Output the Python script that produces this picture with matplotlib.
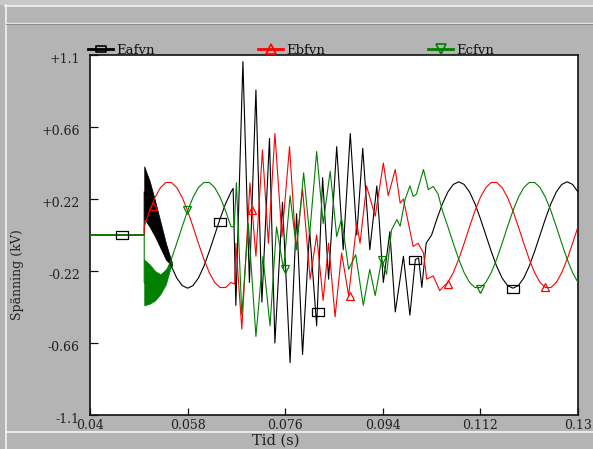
import numpy as np
import matplotlib
matplotlib.use("Agg")
import matplotlib.pyplot as plt
from matplotlib.path import Path
from matplotlib.transforms import offset_copy

# ---------------- data ----------------
series_names = ["Eafvn", "Ebfvn", "Ecfvn"]
series_colors = ["#000000", "#ff0000", "#008000"]

xtick_vals = [0.04, 0.058, 0.076, 0.094, 0.112, 0.13]
xtick_labels = ["0.04", "0.058", "0.076", "0.094", "0.112", "0.13"]
ytick_vals = [1.1, 0.66, 0.22, -0.22, -0.66, -1.1]
ytick_labels = ["+1.1", "+0.66", "+0.22", "-0.22", "-0.66", "-1.1"]

# phase A (Eafvn)
t_a = [0.040, 0.050,
       0.050, 0.051, 0.052, 0.053, 0.054, 0.055, 0.056, 0.057, 0.058, 0.059,
       0.060, 0.061, 0.062, 0.063, 0.064, 0.065, 0.066,
       0.0664, 0.0669, 0.0682, 0.0694, 0.0706, 0.0717, 0.0731, 0.0741, 0.0755,
       0.0769, 0.0781, 0.0792, 0.0805, 0.0818, 0.0829, 0.0840, 0.0855, 0.0867,
       0.0880, 0.0892, 0.0903, 0.0916, 0.0929, 0.0941, 0.0953, 0.0963, 0.0978,
       0.0990, 0.1000, 0.1006, 0.1012, 0.1020,
       0.103, 0.104, 0.105, 0.106, 0.107, 0.108, 0.109, 0.110, 0.111, 0.112,
       0.113, 0.114, 0.115, 0.116, 0.117, 0.118, 0.119, 0.120, 0.121, 0.122,
       0.123, 0.124, 0.125, 0.126, 0.127, 0.128, 0.129, 0.130]
v_a = [0.0, 0.0,
       0.263, 0.191, 0.100, 0.0, -0.100, -0.191, -0.263, -0.309, -0.325, -0.309,
       -0.263, -0.191, -0.100, 0.0, 0.100, 0.191, 0.263,
       0.285, -0.43, 1.06, -0.29, 0.886, -0.41, 0.59, -0.66, 0.20,
       -0.78, 0.13, -0.73, 0.03, -0.555, 0.35, -0.27, 0.54, -0.09,
       0.62, 0.00, 0.53, -0.09, 0.30, -0.29, 0.02, -0.47, -0.13,
       -0.49, -0.15, -0.14, -0.32, -0.05,
       0.0, 0.100, 0.191, 0.263, 0.309, 0.325, 0.309, 0.263, 0.191, 0.100,
       0.0, -0.100, -0.191, -0.263, -0.309, -0.325, -0.309, -0.263, -0.191, -0.100,
       0.0, 0.100, 0.191, 0.263, 0.309, 0.325, 0.309, 0.263]

# phase B (Ebfvn)
t_b = [0.040, 0.050,
       0.050, 0.051, 0.052, 0.053, 0.054, 0.055, 0.056, 0.057, 0.058, 0.059,
       0.060, 0.061, 0.062, 0.063, 0.064, 0.065, 0.066,
       0.0667, 0.0669, 0.0680, 0.0695, 0.0706, 0.0718, 0.0729, 0.0741, 0.0754,
       0.0768, 0.0780, 0.0792, 0.0806, 0.0818, 0.0830, 0.0840, 0.0852, 0.0864,
       0.0877, 0.0892, 0.0898, 0.0910, 0.0926, 0.0941, 0.0950, 0.0963, 0.0972,
       0.0978, 0.0996, 0.1005, 0.1015, 0.1021, 0.1033, 0.1045,
       0.105, 0.106, 0.107, 0.108, 0.109, 0.110, 0.111, 0.112, 0.113, 0.114,
       0.115, 0.116, 0.117, 0.118, 0.119, 0.120, 0.121, 0.122, 0.123, 0.124,
       0.125, 0.126, 0.127, 0.128, 0.129, 0.130]
v_b = [0.0, 0.0,
       0.051, 0.148, 0.230, 0.290, 0.321, 0.321, 0.290, 0.230, 0.148, 0.051,
       -0.051, -0.148, -0.230, -0.290, -0.321, -0.321, -0.290,
       -0.30, -0.05, -0.575, 0.318, -0.13, 0.52, -0.05, 0.62, -0.01,
       0.54, -0.09, 0.28, -0.27, 0.00, -0.40, -0.05, -0.50, -0.11,
       -0.37, 0.07, -0.05, 0.30, 0.115, 0.44, 0.24, 0.40, 0.195,
       0.22, -0.07, -0.05, -0.11, -0.27, -0.25, -0.34,
       -0.321, -0.290, -0.230, -0.148, -0.051, 0.051, 0.148, 0.230, 0.290, 0.321,
       0.321, 0.290, 0.230, 0.148, 0.051, -0.051, -0.148, -0.230, -0.290, -0.321,
       -0.321, -0.290, -0.230, -0.148, -0.051, 0.051]

# phase C (Ecfvn)
t_c = [0.040, 0.050,
       0.050, 0.051, 0.052, 0.053, 0.054, 0.055, 0.056, 0.057, 0.058, 0.059,
       0.060, 0.061, 0.062, 0.063, 0.064, 0.065, 0.066,
       0.0666, 0.0670, 0.0680, 0.0692, 0.0706, 0.0719, 0.0732, 0.0744, 0.0757,
       0.0769, 0.0781, 0.0794, 0.0805, 0.0818, 0.0830, 0.0843, 0.0855, 0.0864,
       0.0877, 0.0890, 0.0904, 0.0916, 0.0926, 0.0938, 0.0947, 0.0956, 0.0966,
       0.0972, 0.0981, 0.0990, 0.0996, 0.1002, 0.1015, 0.1024, 0.1033, 0.1042,
       0.105, 0.106, 0.107, 0.108, 0.109, 0.110, 0.111, 0.112, 0.113, 0.114,
       0.115, 0.116, 0.117, 0.118, 0.119, 0.120, 0.121, 0.122, 0.123, 0.124,
       0.125, 0.126, 0.127, 0.128, 0.129, 0.130]
v_c = [0.0, 0.0,
       -0.290, -0.321, -0.321, -0.290, -0.230, -0.148, -0.051, 0.051, 0.148, 0.230,
       0.290, 0.321, 0.321, 0.290, 0.230, 0.148, 0.051,
       0.05, 0.32, -0.49, 0.07, -0.62, -0.13, -0.555, 0.05, -0.21,
       0.24, -0.09, 0.38, 0.00, 0.51, 0.07, 0.39, -0.01, 0.10,
       -0.21, -0.12, -0.43, -0.21, -0.37, -0.15, -0.24, 0.03, 0.094,
       0.054, 0.216, 0.30, 0.236, 0.25, 0.40, 0.277, 0.297, 0.25,
       0.148, 0.051, -0.051, -0.148, -0.230, -0.290, -0.321, -0.321, -0.290, -0.230,
       -0.148, -0.051, 0.051, 0.148, 0.230, 0.290, 0.321, 0.321, 0.290, 0.230,
       0.148, 0.051, -0.051, -0.148, -0.230, -0.290]

# high-frequency ripple envelopes right after switching (filled bands)
band_t = [0.0500, 0.0510, 0.0520, 0.0530, 0.0540, 0.0551]
band_a_hi = [0.42, 0.33, 0.21, 0.08, -0.05, -0.17]
band_a_lo = [0.10, 0.05, -0.01, -0.08, -0.15, -0.19]
band_c_hi = [-0.15, -0.18, -0.22, -0.24, -0.21, -0.16]
band_c_lo = [-0.43, -0.42, -0.40, -0.36, -0.30, -0.17]

# marker positions
mk_t_a = [0.0459, 0.0640, 0.0820, 0.1000, 0.1181]
mk_v_a = [0.0, 0.08, -0.47, -0.15, -0.33]
mk_t_b = [0.0517, 0.0699, 0.0880, 0.1061, 0.1240]
mk_v_b = [0.175, 0.155, -0.37, -0.30, -0.32]
mk_t_c = [0.0578, 0.0760, 0.0938, 0.1119]
mk_v_c = [0.15, -0.21, -0.15, -0.33]

# ---------------- figure ----------------
W, H = 593, 449
FONT = "DejaVu Serif"
plt.rcParams["font.family"] = [FONT, "DejaVu Sans"]

fig = plt.figure(figsize=(W / 100, H / 100), dpi=100)
fig.patch.set_facecolor("#b4b4b4")

# background decoration (pixel coordinates)
bg = fig.add_axes([0, 0, 1, 1], zorder=0)
bg.set_xlim(0, W)
bg.set_ylim(H, 0)
bg.axis("off")
bg.add_patch(plt.Rectangle((0, 0), W, 5, facecolor="#c8c8c8", edgecolor="none"))
bg.plot([5, W], [5.5, 5.5], color="#f4f4f4", lw=1.2)
bg.plot([5.5, 5.5], [5, H], color="#f4f4f4", lw=1.2)
bg.plot([6, W], [22.5, 22.5], color="#e8e8e8", lw=1.0)
bg.plot([6, W], [23.5, 23.5], color="#8c8c8c", lw=0.8)
bg.plot([6, W], [432, 432], color="#f4f4f4", lw=1.2)

# main axes
ax = fig.add_axes([90 / W, (H - 415) / H, (578 - 90) / W, (415 - 55) / H], zorder=1)
ax.set_facecolor("white")
ax.set_xlim(0.04, 0.13)
ax.set_ylim(-1.1, 1.1)
for sp in ax.spines.values():
    sp.set_linewidth(1.2)
    sp.set_color("#111111")

ax.set_xticks(xtick_vals)
ax.set_xticklabels(xtick_labels, fontsize=9, color="#222222", family=FONT)
ax.set_yticks(ytick_vals)
ax.set_yticklabels([])
ax.tick_params(axis="x", direction="in", length=5.4, width=0.9, pad=3.2, color="#111111")
ax.tick_params(axis="y", direction="in", length=5.4, width=0.9, color="#111111")

ytrans = offset_copy(ax.get_yaxis_transform(), fig=fig, x=-10, y=-4.5, units="dots")
for v, lab in zip(ytick_vals, ytick_labels):
    ax.text(0, v, lab, transform=ytrans, ha="right", va="center", fontsize=9,
            color="#222222", clip_on=False, family=FONT)

# filled ripple bands
ax.fill_between(band_t, band_a_lo, band_a_hi, color=series_colors[0], lw=0.5, zorder=2)
ax.fill_between(band_t, band_c_lo, band_c_hi, color=series_colors[2], lw=0.5, zorder=2)

# traces
lw = 0.8
ax.plot(t_a, v_a, color=series_colors[0], lw=lw, zorder=3)
ax.plot(t_b, v_b, color=series_colors[1], lw=lw, zorder=3.1)
ax.plot(t_c, v_c, color=series_colors[2], lw=lw, zorder=3.2)
# keep the common pre-switching zero level showing as the green trace on top
ax.plot(t_c[:2], v_c[:2], color=series_colors[2], lw=1.1, zorder=3.3)

rect = Path([(-1.0, -0.75), (1.0, -0.75), (1.0, 0.75), (-1.0, 0.75), (-1.0, -0.75)],
            [Path.MOVETO, Path.LINETO, Path.LINETO, Path.LINETO, Path.CLOSEPOLY])
markers = [rect, "^", "v"]
msizes = [8.5, 6.0, 6.0]
mk_data = [(mk_t_a, mk_v_a), (mk_t_b, mk_v_b), (mk_t_c, mk_v_c)]
for (mt, mv), m, ms, c in zip(mk_data, markers, msizes, series_colors):
    ax.plot(mt, mv, linestyle="none", marker=m, markersize=ms, markerfacecolor="none",
            markeredgecolor=c, markeredgewidth=0.9, zorder=4)

# overlay: legend and axis titles (pixel coordinates)
ov = fig.add_axes([0, 0, 1, 1], zorder=2)
ov.set_xlim(0, W)
ov.set_ylim(H, 0)
ov.axis("off")
leg_x = [88, 258, 428]
for x0, name, m, c in zip(leg_x, series_names, markers, series_colors):
    ov.plot([x0, x0 + 25], [49, 49], color=c, lw=2.0)
    ov.plot([x0 + 12.5], [49], marker=m, markersize=6.5, markerfacecolor="none",
            markeredgecolor=c, markeredgewidth=1.2)
    ov.text(x0 + 28, 50, name, ha="left", va="center", fontsize=9.5, color="#111111",
            family=FONT)

ov.text(18, 275, "Spänning (kV)", rotation=90, ha="center", va="center", fontsize=9,
        color="#222222", family=FONT)
ov.text(276, 441, "Tid (s)", ha="center", va="center", fontsize=10.5, color="#222222",
        family=FONT)

fig.savefig("out.png", dpi=100, facecolor=fig.get_facecolor())
